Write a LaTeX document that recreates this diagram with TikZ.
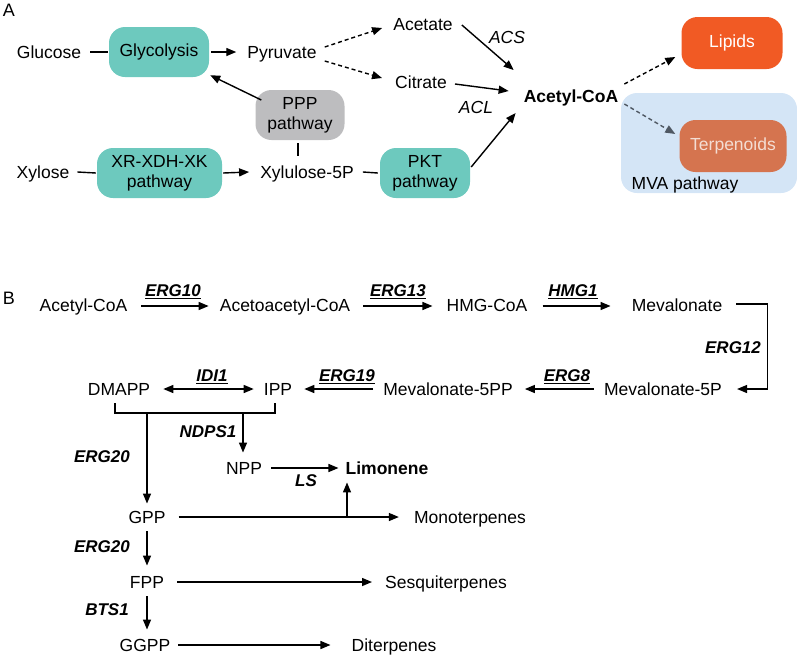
\documentclass[tikz,border=0pt]{standalone}
\usepackage{fontspec}
\setmainfont{Liberation Sans}
\usetikzlibrary{arrows.meta}
\definecolor{tealc}{HTML}{6DC9BE}
\definecolor{grayc}{HTML}{BDBDBF}
\definecolor{lipc}{HTML}{F15A24}
\definecolor{terc}{HTML}{D5744F}
\definecolor{mvac}{HTML}{D4E5F6}
\definecolor{tertxt}{HTML}{F4DDD3}
\definecolor{darkg}{HTML}{4F5863}
\tikzset{
  txt/.style={inner sep=0pt, text height=12.5pt, text depth=0pt, font=\fontsize{17.5}{20}\selectfont},
  boldtxt/.style={txt, font=\fontsize{17.5}{20}\selectfont\bfseries},
  enz/.style={inner sep=0pt, font=\fontsize{17}{20}\selectfont\bfseries\itshape},
  itl/.style={inner sep=0pt, font=\fontsize{17.5}{20}\selectfont\itshape},
  pbox/.style={rounded corners=16pt, minimum height=50pt, inner sep=0pt, align=center,
     font=\fontsize{17.5}{20}\selectfont},
  tbox/.style={pbox, fill=tealc},
  gbox/.style={pbox, fill=grayc},
  arr/.style={line width=1.4pt, -{Triangle[length=10pt,width=8pt]}},
  barr/.style={line width=1.4pt, {Triangle[length=10pt,width=8pt]}-{Triangle[length=10pt,width=8pt]}},
  plain/.style={line width=1.4pt},
  dash arr/.style={line width=1.4pt, dash pattern=on 4pt off 3pt, -{Triangle[length=10pt,width=8pt]}},
}
\begin{document}
\begin{tikzpicture}[x=1pt,y=-1pt]
\useasboundingbox (0,0) rectangle (797,654);
% ---------------- Panel A ----------------
\node[inner sep=0pt, font=\fontsize{18}{20}\selectfont] (lA) at (9,10) {A};
\node[fill=mvac, rounded corners=16pt, minimum width=176pt, minimum height=100pt, inner sep=0pt] (mva) at (709,143) {};
\node[txt] (glu) at (49,52) {Glucose};
\node[tbox, minimum width=100pt] (gly) at (159,52) {Glycolysis};
\node[txt] (pyr) at (282,52) {Pyruvate};
\node[txt] (ace) at (423,24) {Acetate};
\node[txt] (cit) at (421,82) {Citrate};
\node[boldtxt] (acoa) at (571,96) {Acetyl-CoA};
\node[gbox, minimum width=89pt] (ppp) at (300,115) {PPP\\pathway};
\node[txt] (xyl) at (43,172) {Xylose};
\node[tbox, minimum width=125pt] (xr) at (159.5,173) {XR-XDH-XK\\pathway};
\node[txt] (x5p) at (307,172) {Xylulose-5P};
\node[tbox, minimum width=90pt] (pkt) at (425,173) {PKT\\pathway};
\node[pbox, fill=lipc, text=white, minimum width=101pt, minimum height=52pt] (lip) at (732,43) {Lipids};
\node[pbox, fill=terc, text=tertxt, minimum width=107pt, minimum height=52pt] (ter) at (733,146) {Terpenoids};
\node[txt] (mvat) at (685,183) {MVA pathway};
\node[itl] (acs) at (507,37) {ACS};
\node[itl] (acl) at (476,107) {ACL};

\draw[plain] ([shift={(9,0)}]glu.east) -- ([shift={(-1,0)}]gly.west);
\draw[arr] ([shift={(2,0)}]gly.east) -- ([shift={(-11,0)}]pyr.west);
\draw[dash arr] ([shift={(8,-5)}]pyr.east) -- ([shift={(-11,4)}]ace.west);
\draw[dash arr] ([shift={(8,9)}]pyr.east) -- ([shift={(-13,-4)}]cit.west);
\draw[arr] ([shift={(9,1)}]ace.east) -- ([shift={(-10,-26)}]acoa.west);
\draw[arr] ([shift={(8,2)}]cit.east) -- ([shift={(-15,-5)}]acoa.west);
\draw[arr] ([shift={(1,-6)}]pkt.east) -- ([shift={(-8,17)}]acoa.west);
\draw[dash arr] ([shift={(6,-12)}]acoa.east) -- ([shift={(-6,14)}]lip.west);
\draw[dash arr, darkg] ([shift={(6,8)}]acoa.east) -- ([shift={(-4,-12)}]ter.west);
\draw[arr] ([shift={(6,-15)}]ppp.west) -- ([shift={(1,-2)}]gly.south east);
\draw[plain] ([shift={(-2,3)}]ppp.south) -- ([shift={(-9,-10)}]x5p.north);
\draw[plain] ([shift={(8,0)}]xyl.east) -- ([shift={(-1,0)}]xr.west);
\draw[arr] ([shift={(1,0)}]xr.east) -- ([shift={(-11,0)}]x5p.west);
\draw[plain] ([shift={(9,0)}]x5p.east) -- ([shift={(-2,0)}]pkt.west);

% ---------------- Panel B ----------------
\node[inner sep=0pt, font=\fontsize{18}{20}\selectfont] (lB) at (9,298) {B};
\node[txt] (acb) at (83.5,305) {Acetyl-CoA};
\node[txt] (aac) at (285,305) {Acetoacetyl-CoA};
\node[txt] (hmg) at (487,305) {HMG-CoA};
\node[txt] (mev) at (677,305) {Mevalonate};
\node[txt] (m5p) at (663,389) {Mevalonate-5P};
\node[txt] (m5pp) at (448,389) {Mevalonate-5PP};
\node[txt] (ipp) at (278,389) {IPP};
\node[txt] (dmapp) at (119,389) {DMAPP};
\node[txt] (npp) at (244,468) {NPP};
\node[boldtxt] (lim) at (387,468) {Limonene};
\node[txt] (gpp) at (147,517) {GPP};
\node[txt] (mono) at (470,517) {Monoterpenes};
\node[txt] (fpp) at (147,582) {FPP};
\node[txt] (sesq) at (446,582) {Sesquiterpenes};
\node[txt] (ggpp) at (145,645) {GGPP};
\node[txt] (dit) at (394,645) {Diterpenes};

\node[enz] (e10) at (173,292) {\underline{ERG10}};
\node[enz] (e13) at (398,292) {\underline{ERG13}};
\node[enz] (h1) at (573,292) {\underline{HMG1}};
\node[enz] (e12) at (733,348) {ERG12};
\node[enz] (e8) at (567,377) {\underline{ERG8}};
\node[enz] (e19) at (347,377) {\underline{ERG19}};
\node[enz] (idi) at (212,377) {\underline{IDI1}};
\node[enz] (ndps) at (208,432) {NDPS1};
\node[enz] (e20a) at (102,457) {ERG20};
\node[enz] (ls) at (306,481) {LS};
\node[enz] (e20b) at (102,547) {ERG20};
\node[enz] (bts) at (107,610) {BTS1};

\draw[arr] ([shift={(14,1)}]acb.east) -- ([shift={(-11,1)}]aac.west);
\draw[arr] ([shift={(13,1)}]aac.east) -- ([shift={(-14,1)}]hmg.west);
\draw[arr] ([shift={(15,1)}]hmg.east) -- ([shift={(-21,1)}]mev.west);
\draw[arr] ([shift={(14,-1)}]mev.east) -- ++(31,0) |- ([shift={(15,0)}]m5p.east);
\draw[arr] ([shift={(-10,0)}]m5p.west) -- ([shift={(12,0)}]m5pp.east);
\draw[arr] ([shift={(-10,0)}]m5pp.west) -- ([shift={(12,0)}]ipp.east);
\draw[barr] ([shift={(13,0)}]dmapp.east) -- ([shift={(-10,0)}]ipp.west);
\coordinate (brk) at (0,413);
\draw[plain] ([shift={(-4,8)}]dmapp.south) |- ([shift={(-3,0)}]brk -| ipp.south) -- ([shift={(-3,8)}]ipp.south);
\draw[arr] (brk -| gpp.north) -- ([shift={(0,-7)}]gpp.north);
\draw[arr] ([shift={(-1,0)}]brk -| npp.north) -- ([shift={(-1,-9)}]npp.north);
\draw[arr] ([shift={(9,0)}]npp.east) -- ([shift={(-7,0)}]lim.west);
\draw[arr] ([shift={(13,0)}]gpp.east) -- ([shift={(-15,0)}]mono.west);
\coordinate (br) at (347,517);
\draw[arr] (br) -- ([shift={(0,8)}]br |- lim.south);
\draw[arr] ([shift={(0,8)}]gpp.south) -- ([shift={(0,-10)}]fpp.north);
\draw[arr] ([shift={(13,0)}]fpp.east) -- ([shift={(-13,0)}]sesq.west);
\draw[arr] ([shift={(0,8)}]fpp.south) -- ([shift={(0,-9)}]fpp.south |- ggpp.north);
\draw[arr] ([shift={(8,0)}]ggpp.east) -- ([shift={(-21,0)}]dit.west);
\end{tikzpicture}
\end{document}
